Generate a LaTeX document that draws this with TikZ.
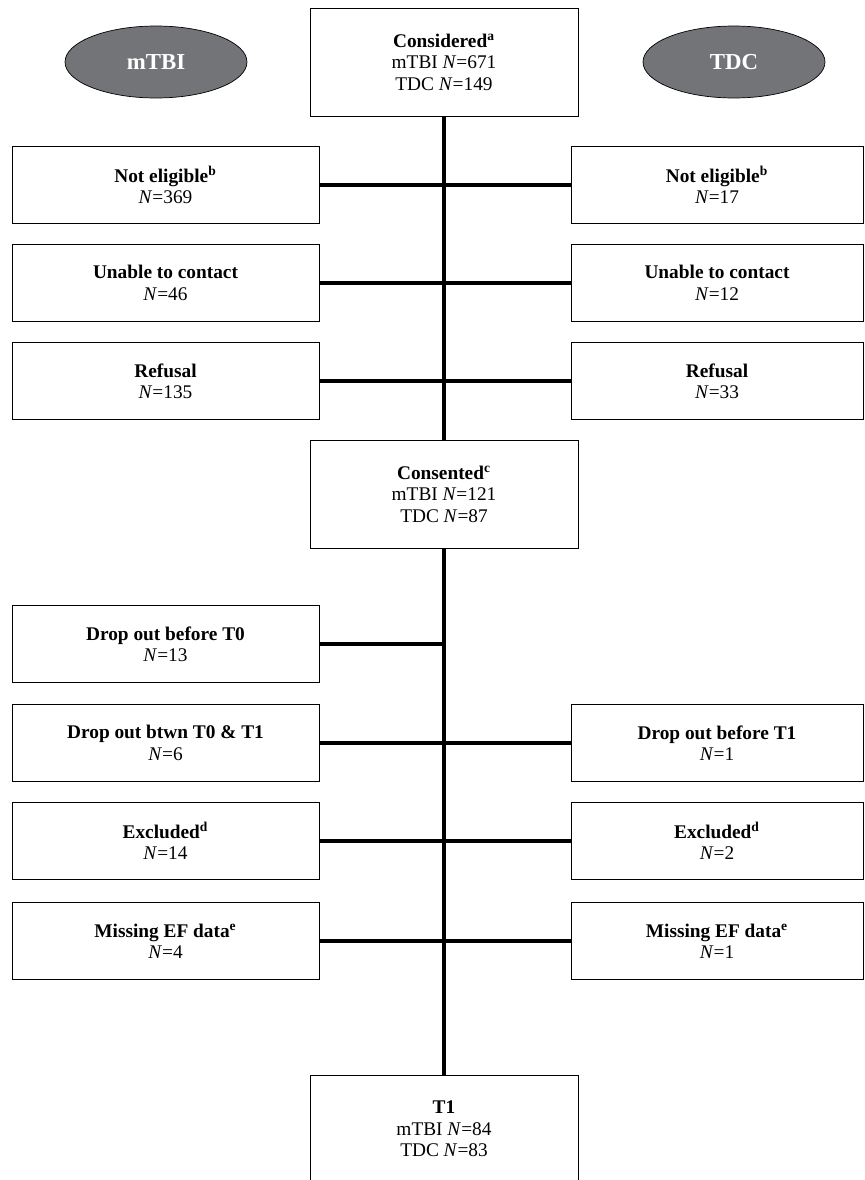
\documentclass[tikz,border=0pt]{standalone}
\usepackage{fontspec}
\setmainfont{Liberation Serif}
\usepackage{tikz}
\usetikzlibrary{shapes.geometric}
\definecolor{ovalgray}{RGB}{115,116,119}
\tikzset{
  midbox/.style={draw,thin,minimum width=5.36cm,minimum height=2.16cm,align=center,font=\fontsize{11}{12.2}\selectfont},
  sidebox/.style={draw,thin,minimum height=1.54cm,align=center,font=\fontsize{11}{12.2}\selectfont},
  lbox/.style={sidebox,minimum width=6.14cm},
  rbox/.style={sidebox,minimum width=5.84cm},
  oval/.style={ellipse,draw,fill=ovalgray,text=white,font=\fontsize{13}{14}\selectfont\bfseries,minimum width=3.64cm,minimum height=1.44cm},
  spine/.style={line width=2.2pt}
}
\begin{document}
\begin{tikzpicture}[x=0.02cm,y=-0.02cm]
  \clip (0,0) rectangle (865,1180);
  \node[oval] (ovm) at (156,62) {mTBI};
  \node[oval] (ovt) at (734,62) {TDC};
  \node[midbox] (consid) at (444,62) {\textbf{Considered\textsuperscript{a}}\\mTBI \textit{N}=671\\TDC \textit{N}=149};
  \node[midbox] (consent) at (444,494) {\textbf{Consented\textsuperscript{c}}\\mTBI \textit{N}=121\\TDC \textit{N}=87};
  \node[midbox] (tone) at (444,1129) {\textbf{T1}\\mTBI \textit{N}=84\\TDC \textit{N}=83};
  % mTBI side
  \node[lbox] (lnel) at (165.5,185) {\textbf{Not eligible\textsuperscript{b}}\\\textit{N}=369};
  \node[lbox] (lunc) at (165.5,283) {\textbf{Unable to contact}\\\textit{N}=46};
  \node[lbox] (lref) at (165.5,381) {\textbf{Refusal}\\\textit{N}=135};
  \node[lbox] (ldt0) at (165.5,644) {\textbf{Drop out before T0}\\\textit{N}=13};
  \node[lbox] (ldt1) at (165.5,743) {\textbf{Drop out btwn T0 \& T1}\\\textit{N}=6};
  \node[lbox] (lexc) at (165.5,841) {\textbf{Excluded\textsuperscript{d}}\\\textit{N}=14};
  \node[lbox] (lmis) at (165.5,941) {\textbf{Missing EF data\textsuperscript{e}}\\\textit{N}=4};
  % TDC side
  \node[rbox] (rnel) at (717,185) {\textbf{Not eligible\textsuperscript{b}}\\\textit{N}=17};
  \node[rbox] (runc) at (717,283) {\textbf{Unable to contact}\\\textit{N}=12};
  \node[rbox] (rref) at (717,381) {\textbf{Refusal}\\\textit{N}=33};
  \node[rbox] (rdt1) at (717,743) {\textbf{Drop out before T1}\\\textit{N}=1};
  \node[rbox] (rexc) at (717,841) {\textbf{Excluded\textsuperscript{d}}\\\textit{N}=2};
  \node[rbox] (rmis) at (717,941) {\textbf{Missing EF data\textsuperscript{e}}\\\textit{N}=1};
  % spine
  \draw[spine] (consid.south) -- (consent.north);
  \draw[spine] (consent.south) -- (tone.north);
  \foreach \l in {lnel,lunc,lref,ldt0,ldt1,lexc,lmis}
    \draw[spine] (\l.east) -- (\l.east -| consid.south);
  \foreach \r in {rnel,runc,rref,rdt1,rexc,rmis}
    \draw[spine] (\r.west) -- (\r.west -| consid.south);
\end{tikzpicture}
\end{document}
